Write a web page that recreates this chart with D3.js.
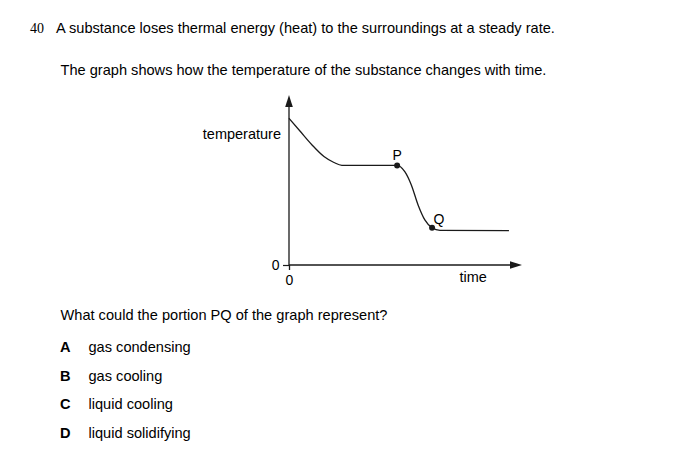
<!DOCTYPE html>
<html><head><meta charset="utf-8">
<script src="https://cdn.jsdelivr.net/npm/d3@7"></script>
<style>
html,body{margin:0;padding:0;background:#fff;}
svg{display:block;}
text{font-family:"Liberation Sans",Arial,sans-serif;fill:#000;}
</style></head>
<body>
<script>
// ---- data ----
const time = [0, 4.7, 9.9, 15.0, 19.3, 22.7, 46.4, 49.7, 52.5, 55.4, 58.3, 61.4, 64.8, 94.4];
const temperature = [86.3, 78.8, 70.6, 63.8, 60.3, 58.6, 58.6, 54.9, 47.1, 35.3, 26.5, 21.9, 20.4, 20.2];
const markedIndex = [6, 11];
const markedLabels = ["P", "Q"];
const yTickValues = [0];
const xTickValues = [0];
const axisTitles = ["temperature", "time"];
const questionLines = [
  "A substance loses thermal energy (heat) to the surroundings at a steady rate.",
  "The graph shows how the temperature of the substance changes with time."
];
const questionNumber = "40";
const prompt = "What could the portion PQ of the graph represent?";
const optionLetters = ["A", "B", "C", "D"];
const optionTexts = ["gas condensing", "gas cooling", "liquid cooling", "liquid solidifying"];

const W = 674, H = 459;
const svg = d3.select("body").append("svg").attr("width", W).attr("height", H);
const fs = "14.6px";

// header text
svg.append("text").attr("x", 30).attr("y", 33)
  .style("font-family", "'Liberation Serif','Times New Roman',serif").style("font-size", "14px")
  .text(questionNumber);
svg.append("text").attr("x", 56).attr("y", 33).style("font-size", fs).text(questionLines[0]);
svg.append("text").attr("x", 60.5).attr("y", 75).style("font-size", fs).text(questionLines[1]);
svg.append("text").attr("x", 60.5).attr("y", 320).style("font-size", fs).text(prompt);

const optY = [352.3, 381, 409.3, 438.3];
optionLetters.forEach((l, i) => {
  svg.append("text").attr("x", 60).attr("y", optY[i]).style("font-size", fs).style("font-weight", "bold").text(l);
  svg.append("text").attr("x", 88.5).attr("y", optY[i]).style("font-size", fs).text(optionTexts[i]);
});

// chart scales
const x = d3.scaleLinear().domain([0, 100]).range([289, 522]);
const y = d3.scaleLinear().domain([0, 100]).range([265, 95]);
const ink = "#1a1a1a";

// axes lines
svg.append("line").attr("x1", x(0)).attr("x2", x(100) - 8).attr("y1", y(0)).attr("y2", y(0))
  .attr("stroke", ink).attr("stroke-width", 1.3);
svg.append("line").attr("x1", x(0)).attr("x2", x(0)).attr("y1", y(0)).attr("y2", y(100) + 8)
  .attr("stroke", ink).attr("stroke-width", 1.3);
// arrowheads
svg.append("path")
  .attr("d", `M${x(100)},${y(0)} L${x(100) - 12},${y(0) - 3.8} L${x(100) - 12},${y(0) + 3.8} Z`)
  .attr("fill", ink);
svg.append("path")
  .attr("d", `M${x(0)},${y(100)} L${x(0) - 3.8},${y(100) + 12} L${x(0) + 3.8},${y(100) + 12} Z`)
  .attr("fill", ink);

// ticks via d3 axes
const yAxis = d3.axisLeft(y).tickValues(yTickValues).tickSize(6).tickPadding(3.5).tickFormat(d3.format("d"));
const gy = svg.append("g").attr("transform", `translate(${x(0)},0)`).call(yAxis);
gy.select(".domain").remove();
gy.selectAll("line").attr("stroke", ink).attr("stroke-width", 1.2);
gy.selectAll("text").style("font-family", "'Liberation Sans',Arial,sans-serif").style("font-size", "14px").attr("fill", "#000");

const xAxis = d3.axisBottom(x).tickValues(xTickValues).tickSize(5).tickPadding(5).tickFormat(d3.format("d"));
const gx = svg.append("g").attr("transform", `translate(0,${y(0)})`).call(xAxis);
gx.select(".domain").remove();
gx.selectAll("line").attr("stroke", ink).attr("stroke-width", 1.3);
gx.selectAll("text").style("font-family", "'Liberation Sans',Arial,sans-serif").style("font-size", "14px").attr("fill", "#000");

// axis titles
svg.append("text").attr("x", 281).attr("y", 138.5).attr("text-anchor", "end").style("font-size", "14.5px").text(axisTitles[0]);
svg.append("text").attr("x", 459.5).attr("y", 282).style("font-size", "14.5px").text(axisTitles[1]);

// curve
const pts = time.map((t, i) => [t, temperature[i]]);
const line = d3.line().x(d => x(d[0])).y(d => y(d[1])).curve(d3.curveMonotoneX);
svg.append("path").datum(pts).attr("d", line).attr("fill", "none").attr("stroke", ink).attr("stroke-width", 1.3);

// marked points
markedIndex.forEach((idx) => {
  svg.append("circle").attr("cx", x(time[idx])).attr("cy", y(temperature[idx])).attr("r", 3).attr("fill", ink);
});
svg.append("text").attr("x", x(time[markedIndex[0]])).attr("y", 160).attr("text-anchor", "middle").style("font-size", "14px").text(markedLabels[0]);
svg.append("text").attr("x", 433.5).attr("y", 223.5).style("font-size", "14px").text(markedLabels[1]);
</script>
</body></html>
